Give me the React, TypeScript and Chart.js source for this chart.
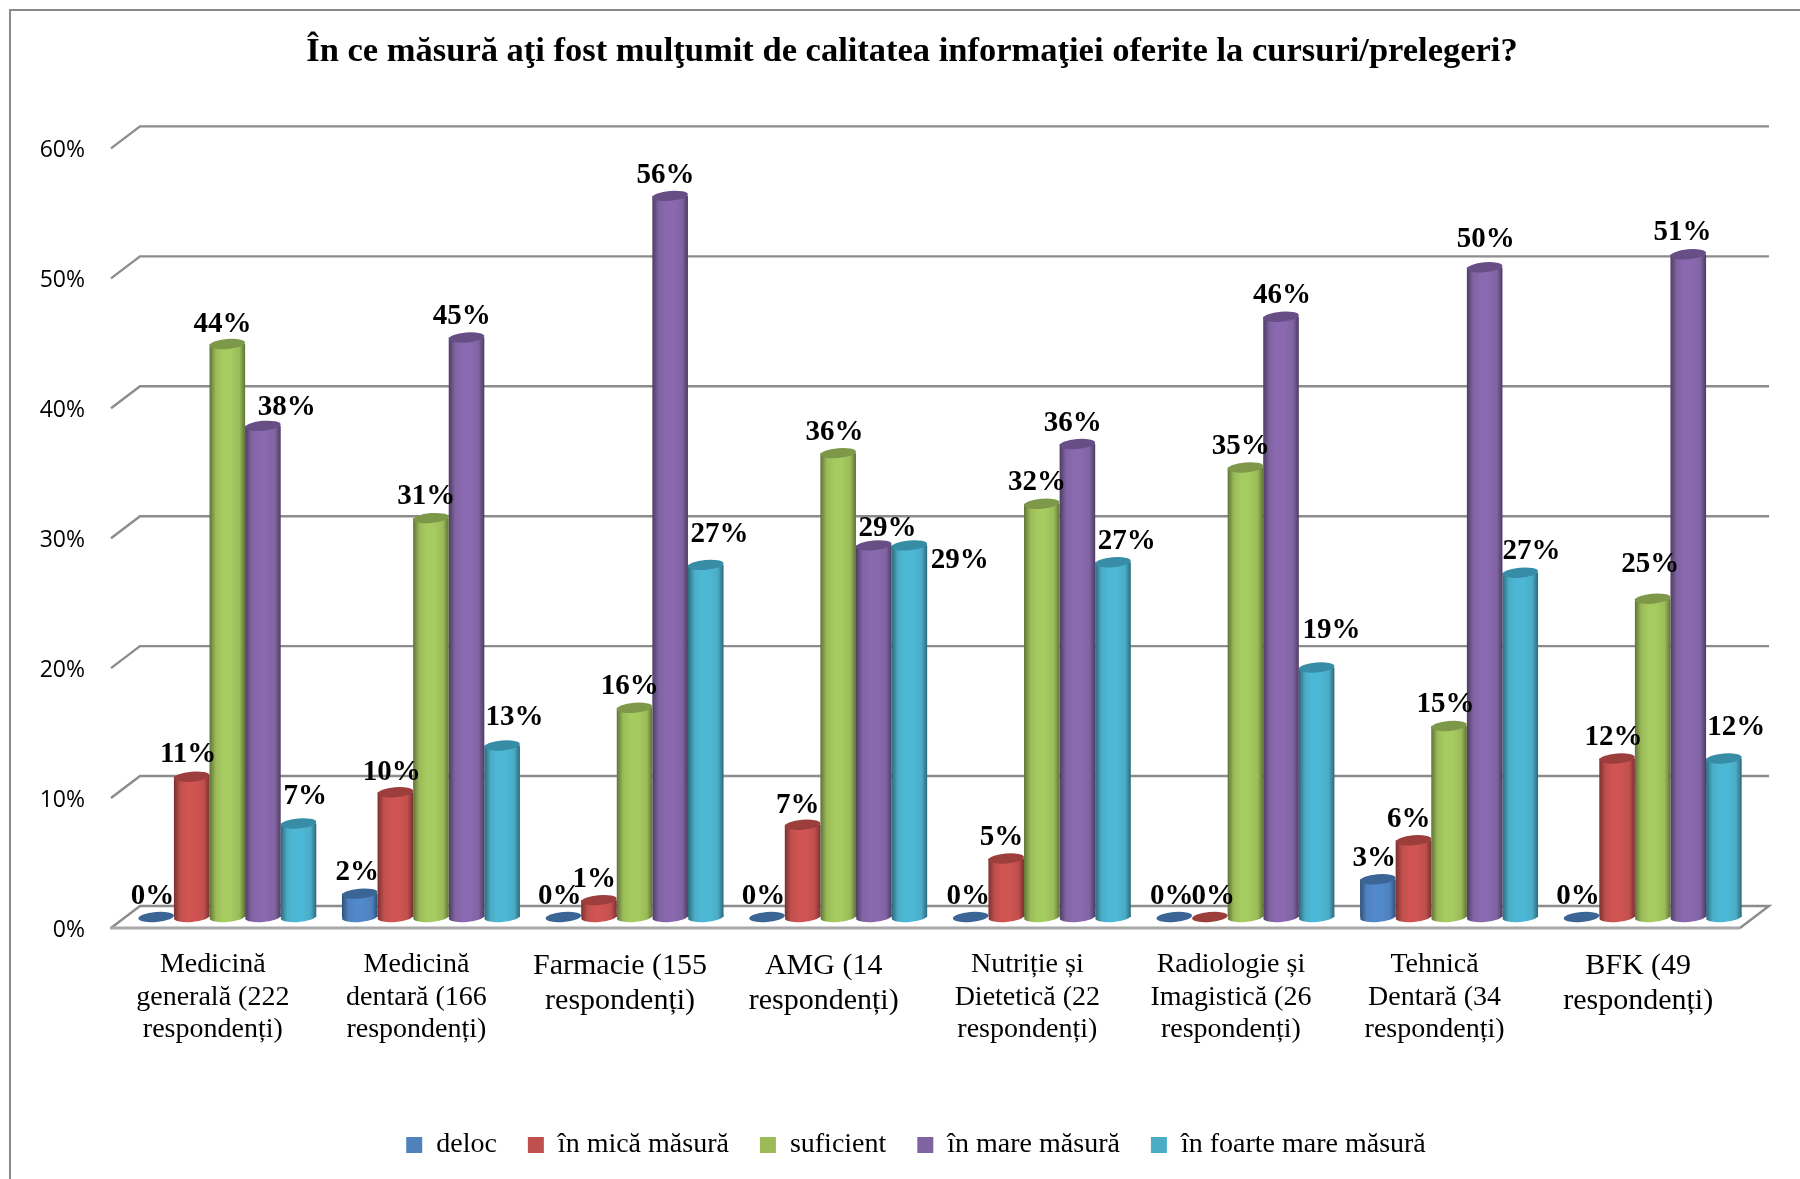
import React, { useEffect, useRef } from "react";
import { Chart, registerables } from "chart.js";

Chart.register(...registerables);

const titleText = "În ce măsură aţi fost mulţumit de calitatea informaţiei oferite la cursuri/prelegeri?";

const categories = [
  ["Medicină", "generală (222", "respondenți)"],
  ["Medicină", "dentară (166", "respondenți)"],
  ["Farmacie (155", "respondenți)"],
  ["AMG (14", "respondenți)"],
  ["Nutriție și", "Dietetică (22", "respondenți)"],
  ["Radiologie și", "Imagistică (26", "respondenți)"],
  ["Tehnică", "Dentară (34", "respondenți)"],
  ["BFK (49", "respondenți)"],
];

const seriesNames = ["deloc", "în mică măsură", "suficient", "în mare măsură", "în foarte mare măsură"];

const delocValues = [0, 1.8, 0, 0, 0, 0, 2.9, 0];
const micaValues = [10.8, 9.6, 1.3, 7.1, 4.5, 0, 5.9, 12.2];
const suficientValues = [44.1, 30.7, 16.1, 35.7, 31.8, 34.6, 14.7, 24.5];
const mareValues = [37.8, 44.6, 55.5, 28.6, 36.4, 46.2, 50, 51];
const foarteMareValues = [7.2, 13.2, 27.1, 28.6, 27.3, 19.2, 26.5, 12.2];
const seriesValues = [delocValues, micaValues, suficientValues, mareValues, foarteMareValues];

const baseColors = ["#4F81BD", "#C0504D", "#9BBB59", "#8064A2", "#4BACC6"];
const lightColors = ["#5289CC", "#D05452", "#A6CB60", "#8A69B0", "#4DB8D6"];
const edgeColors = ["#2F5078", "#7A3130", "#5F7437", "#4D3C63", "#2C6A7B"];
const capColors = ["#3A6594", "#9C3E3C", "#7E984A", "#674F86", "#378DA6"];

// label placement relative to the top of each bar [dx, dy]
const labelNudges = [
  [[-4, -19], [-3, -19], [-4, -19], [-4, -19], [-3, -19], [-3, -19], [-4, -19], [-4, -19]],
  [[-4, -20], [-4, -18], [-5, -19], [-5, -18], [-5, -19], [2, -19], [-5, -19], [-4, -19]],
  [[-5, -18], [-5, -20], [-5, -19], [-4, -19], [-5, -19], [-5, -19], [-4, -20], [-3, -31]],
  [[20, -17], [-5, -19], [-5, -19], [11, -16], [-5, -19], [0, -19], [0, -25], [-6, -20]],
  [[5, -24], [10, -25], [11, -27], [43, 12], [11, -19], [12, -33], [9, -19], [10, -28]],
];

const DEPTH_X = 29;
const DEPTH_Y = 22;
const MID_X = 14.5;
const MID_Y = 11;
const TILT = -0.085;
const CAP_RY = 5;
const NUDGE_SCALE = 1.148;
const LEGEND_SHIFT = 4;

const scene3d = {
  id: "scene3d",
  afterLayout(chart: any) {
    chart.legend.left += LEGEND_SHIFT;
    chart.legend.right += LEGEND_SHIFT;
  },
  beforeDraw(chart: any) {
    const { ctx, width, height } = chart;
    ctx.save();
    ctx.fillStyle = "#ffffff";
    ctx.fillRect(0, 0, width, height);
    ctx.strokeStyle = "#8a8a8a";
    ctx.lineWidth = 2;
    ctx.beginPath();
    ctx.moveTo(10, height);
    ctx.lineTo(10, 10);
    ctx.lineTo(width, 10);
    ctx.stroke();
    ctx.restore();
  },
  beforeDatasetsDraw(chart: any) {
    const { ctx, chartArea, scales } = chart;
    const { left, right } = chartArea;
    ctx.save();
    ctx.strokeStyle = "#8c8c8c";
    ctx.lineWidth = 2.4;
    scales.y.ticks.forEach((t: any) => {
      const y = scales.y.getPixelForValue(t.value);
      ctx.beginPath();
      ctx.moveTo(left, y);
      ctx.lineTo(left + DEPTH_X, y - DEPTH_Y);
      ctx.lineTo(right + DEPTH_X, y - DEPTH_Y);
      if (t.value === 0) {
        ctx.lineTo(right, y);
      }
      ctx.stroke();
    });
    const y0 = scales.y.getPixelForValue(0);
    ctx.strokeStyle = "#a8a8a8";
    ctx.lineWidth = 3;
    ctx.beginPath();
    ctx.moveTo(left - 1, y0);
    ctx.lineTo(right, y0);
    ctx.stroke();
    ctx.restore();
  },
  beforeDatasetDraw(chart: any, args: any) {
    const { ctx } = chart;
    const idx = args.index;
    const meta = args.meta;
    ctx.save();
    ctx.translate(MID_X, -MID_Y);
    meta.data.forEach((el: any, i: number) => {
      const v = seriesValues[idx][i];
      const { x, y, base, width } = el.getProps(["x", "y", "base", "width"], true);
      const hw = width / 2;
      const ell = (cy: number, fill: any) => {
        ctx.beginPath();
        ctx.ellipse(x, cy, hw, CAP_RY, TILT, 0, Math.PI * 2);
        ctx.fillStyle = fill;
        ctx.fill();
      };
      if (v === 0) {
        ell(base, capColors[idx]);
        return;
      }
      const g = ctx.createLinearGradient(x - hw, 0, x + hw, 0);
      g.addColorStop(0, edgeColors[idx]);
      g.addColorStop(0.18, baseColors[idx]);
      g.addColorStop(0.38, lightColors[idx]);
      g.addColorStop(0.6, lightColors[idx]);
      g.addColorStop(0.84, baseColors[idx]);
      g.addColorStop(1, edgeColors[idx]);
      ell(base, g);
      ctx.fillStyle = g;
      ctx.fillRect(x - hw, y, width, base - y);
      ell(y, capColors[idx]);
    });
    ctx.restore();
    return false;
  },
  afterDatasetsDraw(chart: any) {
    const { ctx } = chart;
    ctx.save();
    ctx.font = "bold 29px 'Liberation Serif'";
    ctx.fillStyle = "#000000";
    ctx.textAlign = "center";
    ctx.textBaseline = "middle";
    chart.data.datasets.forEach((_: any, idx: number) => {
      chart.getDatasetMeta(idx).data.forEach((el: any, i: number) => {
        const [dx, dy] = labelNudges[idx][i];
        const text = Math.round(seriesValues[idx][i]) + "%";
        ctx.fillText(text, el.x + MID_X + 1 + dx * NUDGE_SCALE, el.y - MID_Y + 1 + dy * NUDGE_SCALE);
      });
    });
    ctx.restore();
  },
};

export default function App() {
  const ref = useRef<HTMLCanvasElement>(null);
  useEffect(() => {
    document.body.style.margin = "0";
    const chart = new Chart(ref.current as HTMLCanvasElement, {
      type: "bar",
      data: {
        labels: categories as any,
        datasets: seriesNames.map((label, i) => ({
          label,
          data: seriesValues[i],
          backgroundColor: baseColors[i],
          categoryPercentage: 0.874,
          barPercentage: 1,
        })),
      },
      plugins: [scene3d as any],
      options: {
        responsive: false,
        animation: false,
        layout: { autoPadding: false, padding: { left: 24, right: 0, top: 0, bottom: 10 } },
        plugins: {
          tooltip: { enabled: false },
          title: {
            display: true,
            text: titleText,
            color: "#000000",
            font: { family: "'Liberation Serif'", size: 34.5, weight: "bold", lineHeight: 1.2 },
            padding: { top: 31, bottom: 76 },
          },
          legend: {
            position: "bottom",
            labels: {
              boxWidth: 16,
              boxHeight: 16,
              padding: 31,
              color: "#000000",
              font: { family: "'Liberation Serif'", size: 28 },
            },
          },
        },
        scales: {
          x: {
            grid: { display: false, drawTicks: false },
            border: { display: false },
            afterFit: (s: any) => { s.height = 172; },
            ticks: {
              color: "#000000",
              autoSkip: false,
              maxRotation: 0,
              minRotation: 0,
              padding: 21,
              font: (c: any) => ({
                family: "'Liberation Serif'",
                size: categories[c.index] && categories[c.index].length === 2 ? 30 : 28,
                lineHeight: 1.15,
              }),
            },
          },
          y: {
            min: 0,
            max: 60,
            grid: { display: false, drawTicks: false },
            border: { display: false },
            afterFit: (s: any) => { s.width = 87; },
            ticks: {
              stepSize: 10,
              color: "#000000",
              padding: 26,
              labelOffset: 2,
              font: { family: "'Open Sans'", size: 23 },
              callback: (v: any) => v + "%",
            },
          },
          yRight: {
            position: "right",
            min: 0,
            max: 60,
            grid: { display: false, drawTicks: false },
            border: { display: false },
            ticks: { display: false },
            afterFit: (s: any) => { s.width = 60; },
          },
        },
      },
    } as any);
    return () => chart.destroy();
  }, []);
  return <canvas ref={ref} width={1800} height={1179} style={{ display: "block" }} />;
}
